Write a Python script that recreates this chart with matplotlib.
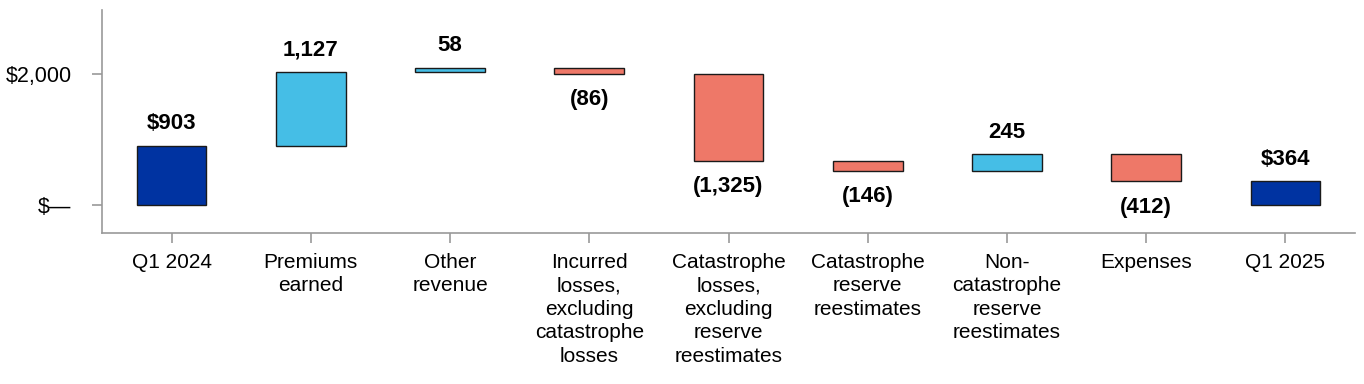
import matplotlib
matplotlib.use("Agg")
import matplotlib.pyplot as plt
import numpy as np

plt.rcParams["font.family"] = ["Liberation Sans", "DejaVu Sans"]

categories = [
    "Q1 2024", "Premiums\nearned", "Other\nrevenue",
    "Incurred\nlosses,\nexcluding\ncatastrophe\nlosses",
    "Catastrophe\nlosses,\nexcluding\nreserve\nreestimates",
    "Catastrophe\nreserve\nreestimates",
    "Non-\ncatastrophe\nreserve\nreestimates",
    "Expenses", "Q1 2025",
]
values = [903, 1127, 58, -86, -1325, -146, 245, -412, 364]
kinds = ["total", "step", "step", "step", "step", "step", "step", "step", "total"]
labels = ["$903", "1,127", "58", "(86)", "(1,325)", "(146)", "245", "(412)", "$364"]

DARK = "#0033A1"
UP = "#45BEE6"
DOWN = "#EE7868"

bottoms, heights, colors = [], [], []
running = 0
for v, k in zip(values, kinds):
    if k == "total":
        bottoms.append(0)
        heights.append(v)
        colors.append(DARK)
        running = v
    else:
        if v >= 0:
            bottoms.append(running)
            colors.append(UP)
        else:
            bottoms.append(running + v)
            colors.append(DOWN)
        heights.append(abs(v))
        running += v

fig = plt.figure(figsize=(13.64, 3.84), dpi=100)
ax = fig.add_axes([0.0748, 0.393, 0.9186, 0.581])
x = np.arange(len(categories))
ax.bar(x, heights, bottom=bottoms, width=0.5, color=colors,
       edgecolor="#1a1a1a", linewidth=1.0, zorder=3)

for i, (v, k, lab) in enumerate(zip(values, kinds, labels)):
    top = bottoms[i] + heights[i]
    if k == "total" or v >= 0:
        ax.annotate(lab, (i, top), xytext=(0, 8.5), textcoords="offset points",
                    ha="center", va="bottom", fontsize=16, fontweight="bold")
    else:
        ax.annotate(lab, (i, bottoms[i]), xytext=(0, -11), textcoords="offset points",
                    ha="center", va="top", fontsize=16, fontweight="bold")

ax.set_xlim(-0.5, 8.5)
ax.set_ylim(-420, 2970)
ax.set_yticks([0, 2000])
ax.set_yticklabels(["$\u2014", "$2,000"], fontsize=15.5)
ax.set_xticks(x)
ax.set_xticklabels(categories, fontsize=15, linespacing=1.31)

for s in ["top", "right"]:
    ax.spines[s].set_visible(False)
for s in ["left", "bottom"]:
    ax.spines[s].set_color("#999999")
    ax.spines[s].set_linewidth(1.2)
ax.tick_params(axis="both", color="#999999", length=7, width=1.2)
ax.tick_params(axis="x", pad=7)
ax.tick_params(axis="y", pad=15)

fig.savefig("out.png", dpi=100)
